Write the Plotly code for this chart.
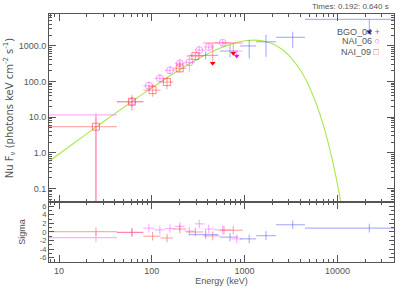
import plotly.graph_objects as go
from plotly.subplots import make_subplots

# ---------------- data ----------------
# NAI_09 (red squares)
n9_e = [25, 61, 102, 146, 200, 295, 600]
n9_elo = [7.8, 42, 81, 124, 170, 236, 540]
n9_ehi = [42, 81, 124, 170, 236, 358, 700]
n9_f = [5.4, 27, 57, 96, 233, 514, 1200]
n9_fhi = [10.5, 41.6, 84.5, 136, 356, 650, 1300]
n9_flo = [0.01, 15, 37, 60, 175, 400, 1100]
n9_res = [0.1, -0.1, -1.0, -1.4, 0.7, 0.0, 0.4]
# NAI_09 upper limits
n9u_e = [453, 755]
n9u_elo = [358, 700]
n9u_ehi = [540, 960]
n9u_ul = [1200, 1200]
n9u_tip = [321, 612]
n9u_res = [-0.9, 0.4]

# NAI_06 (magenta circles)
n6_e = [25, 61, 93, 122, 157, 200, 254, 325, 410, 580]
n6_elo = [7.8, 42, 81, 107, 138, 178, 225, 290, 370, 470]
n6_ehi = [42, 81, 107, 138, 178, 225, 290, 370, 470, 720]
n6_f = [11.5, 27, 76, 122, 205, 321, 343, 758, 920, 1213]
n6_fhi = [13, 38, 100, 160, 265, 420, 492, 950, 1150, 1450]
n6_flo = [0.01, 19, 58, 93, 158, 245, 187, 600, 730, 1000]
n6_res = [-1.3, -0.1, 0.9, 0.5, 0.8, 1.3, 0.2, 1.9, 0.7, 0.5]
# NAI_06 upper limit
n6u_e = [822]
n6u_elo = [720]
n6u_ehi = [950]
n6u_ul = [710]
n6u_tip = [514]
n6u_res = [-1.6]

# BGO_04 (blue crosses)
b4_e = [380, 696, 1122, 1700, 3300]
b4_elo = [250, 540, 890, 1330, 2180]
b4_ehi = [520, 850, 1330, 2180, 4470]
b4_f = [537, 710, 990, 1295, 1720]
b4_fhi = [700, 1045, 1443, 2034, 2470]
b4_flo = [410, 473, 443, 492, 879]
b4_res = [-0.6, -1.2, -1.6, -0.85, 1.7]
# BGO_04 upper limit
b4u_e = [22100]
b4u_elo = [4470]
b4u_ehi = [40800]
b4u_ul = [5500]
b4u_tip = [2470]
b4u_res = [0.9]

# model curve
mod_e = [7.8, 10, 15, 20, 30, 50, 70, 100, 150, 200, 300, 500, 700, 1000, 1260,
         1500, 2000, 2500, 3000, 4000, 5000, 6000, 7000, 8000, 9000, 10000, 11000]
mod_f = [0.58, 0.93, 2.0, 3.45, 7.4, 19.0, 35, 66, 133, 213, 398, 780, 1094, 1374, 1442,
         1396, 1135, 815, 541, 206, 69, 21.6, 6.4, 1.81, 0.50, 0.134, 0.035]

y_tickvals = [0.1, 1, 10, 100, 1000]
y_ticktext = ["0.1", "1.0", "10.0", "100.0", "1000.0"]
s_tickvals = [-6, -4, -2, 0, 2, 4, 6]
s_ticktext = ["-6", "-4", "-2", "0", "2", "4", "6"]
x_tickvals = [10, 100, 1000, 10000]
x_ticktext = ["10", "100", "1000", "10000"]

# --------------- figure ---------------
RED = "rgba(255,90,90,0.5)"
MAG = "rgba(255,100,255,0.5)"
BLU = "rgba(100,100,255,0.5)"
GREEN = "#a8e84c"
AX = "#555555"
FONT = "Liberation Sans"
TH = 1.2

fig = make_subplots(rows=2, cols=1, shared_xaxes=True,
                    row_heights=[0.758, 0.242], vertical_spacing=0)


def sub(a, b):
    return [x - y for x, y in zip(a, b)]


def pts(e, elo, ehi, f, fhi, flo, col, sym, size, lcol, row=1):
    fig.add_trace(go.Scatter(
        x=e, y=f, mode="markers",
        marker=dict(symbol=sym, size=size, color=lcol, line=dict(color=lcol, width=1)),
        error_x=dict(type="data", symmetric=False, array=sub(ehi, e),
                     arrayminus=sub(e, elo), color=col, thickness=TH, width=0),
        error_y=dict(type="data", symmetric=False, array=sub(fhi, f),
                     arrayminus=sub(f, flo), color=col, thickness=TH, width=0),
        showlegend=False, hoverinfo="skip"), row=row, col=1)


def uls(e, elo, ehi, ul, tip, col, tipcol):
    fig.add_trace(go.Scatter(
        x=e, y=ul, mode="markers", marker=dict(size=0, opacity=0),
        error_x=dict(type="data", symmetric=False, array=sub(ehi, e),
                     arrayminus=sub(e, elo), color=col, thickness=TH, width=0),
        error_y=dict(type="data", symmetric=False, array=[0] * len(e),
                     arrayminus=sub(ul, tip), color=col, thickness=TH, width=0),
        showlegend=False, hoverinfo="skip"), row=1, col=1)
    fig.add_trace(go.Scatter(
        x=e, y=tip, mode="markers",
        marker=dict(symbol="triangle-down", size=5, color=tipcol),
        showlegend=False, hoverinfo="skip"), row=1, col=1)


def res(e, elo, ehi, r, col):
    fig.add_trace(go.Scatter(
        x=e, y=r, mode="markers", marker=dict(size=0, opacity=0),
        error_x=dict(type="data", symmetric=False, array=sub(ehi, e),
                     arrayminus=sub(e, elo), color=col, thickness=TH, width=0),
        error_y=dict(type="data", array=[1] * len(e), color=col, thickness=TH, width=0),
        showlegend=False, hoverinfo="skip"), row=2, col=1)


# model
fig.add_trace(go.Scatter(x=mod_e, y=mod_f, mode="lines", line=dict(color=GREEN, width=1.1, shape="spline"),
                         showlegend=False, hoverinfo="skip"), row=1, col=1)
# zero line in residuals
fig.add_hline(y=0, line=dict(color=GREEN, width=1.5, dash="dot"), row=2, col=1)

# top panel data
pts(b4_e, b4_elo, b4_ehi, b4_f, b4_fhi, b4_flo, BLU, "cross-thin", 0, "rgba(0,0,0,0)")
n6_sizes = [0] + [7] * (len(n6_e) - 1)
fig.add_trace(go.Scatter(
    x=n6_e, y=n6_f, mode="markers",
    marker=dict(symbol="circle-open", size=n6_sizes, color="rgba(255,90,255,0.85)", line=dict(width=1)),
    error_x=dict(type="data", symmetric=False, array=sub(n6_ehi, n6_e),
                 arrayminus=sub(n6_e, n6_elo), color=MAG, thickness=TH, width=0),
    error_y=dict(type="data", symmetric=False, array=sub(n6_fhi, n6_f),
                 arrayminus=sub(n6_f, n6_flo), color=MAG, thickness=TH, width=0),
    showlegend=False, hoverinfo="skip"), row=1, col=1)
n9_sizes = [7] * (len(n9_e) - 1) + [0]
fig.add_trace(go.Scatter(
    x=n9_e, y=n9_f, mode="markers",
    marker=dict(symbol="square-open", size=n9_sizes, color="rgba(255,60,60,0.85)", line=dict(width=1)),
    error_x=dict(type="data", symmetric=False, array=sub(n9_ehi, n9_e),
                 arrayminus=sub(n9_e, n9_elo), color=RED, thickness=TH, width=0),
    error_y=dict(type="data", symmetric=False, array=sub(n9_fhi, n9_f),
                 arrayminus=sub(n9_f, n9_flo), color=RED, thickness=TH, width=0),
    showlegend=False, hoverinfo="skip"), row=1, col=1)

uls(b4u_e, b4u_elo, b4u_ehi, b4u_ul, b4u_tip, BLU, "#0000cc")
uls(n6u_e, n6u_elo, n6u_ehi, n6u_ul, n6u_tip, MAG, "#ff00ff")
uls(n9u_e, n9u_elo, n9u_ehi, n9u_ul, n9u_tip, RED, "#ff0000")

# residuals
res(n6_e + n6u_e, n6_elo + n6u_elo, n6_ehi + n6u_ehi, n6_res + n6u_res, MAG)
res(n9_e + n9u_e, n9_elo + n9u_elo, n9_ehi + n9u_ehi, n9_res + n9u_res, RED)
res(b4_e + b4u_e, b4_elo + b4u_elo, b4_ehi + b4u_ehi, b4_res + b4u_res, BLU)

axis_common = dict(showline=True, linecolor=AX, linewidth=1, mirror="ticks", ticks="inside",
                   tickcolor=AX, showgrid=False, zeroline=False, automargin=False)

x_minor = [k * 10 ** d for d in range(0, 5) for k in range(2, 10)]
y_minor = [k * 10.0 ** d for d in range(-2, 4) for k in range(2, 10)]

xr = [0.892, 4.61]
fig.update_xaxes(type="log", range=xr, tickvals=x_tickvals, ticktext=x_ticktext, ticklen=7,
                 tickfont=dict(family=FONT, size=9, color="#555"),
                 minor=dict(ticks="inside", ticklen=3, tickcolor=AX, tickvals=x_minor), **axis_common)
fig.update_xaxes(showticklabels=False, row=1, col=1)
fig.update_xaxes(title=dict(text="Energy (keV)", font=dict(family=FONT, size=9, color="#555"), standoff=1),
                 row=2, col=1)
fig.update_yaxes(type="log", range=[-1.378, 3.89], tickvals=y_tickvals, ticktext=y_ticktext,
                 ticklen=7, tickfont=dict(family=FONT, size=9, color="#555"),
                 minor=dict(ticks="inside", ticklen=3, tickcolor=AX, tickvals=y_minor),
                 title=dict(text="Nu F<sub>ν</sub> (photons keV cm<sup>-2</sup> s<sup>-1</sup>)",
                            font=dict(family="DejaVu Sans", size=10, color="#555"), standoff=3),
                 row=1, col=1, **axis_common)
fig.update_yaxes(range=[-7, 7], tickvals=s_tickvals, ticktext=s_ticktext, ticklen=5,
                 tickfont=dict(family=FONT, size=7.5, color="#555"),
                 minor=dict(ticks="inside", ticklen=3, tickcolor=AX, dtick=1),
                 title=dict(text="Sigma", font=dict(family=FONT, size=9, color="#555"), standoff=12),
                 row=2, col=1, **axis_common)

# legend as annotations
leg = [("BGO_04", "+", "#6060ff"), ("NAI_06", "○", "#ff60ff"), ("NAI_09", "□", "#ff5050")]
for i, (name, sym, col) in enumerate(leg):
    fig.add_annotation(xref="paper", yref="paper", x=0.965, y=(262 - 31.5 - 10 * i) / 248,
                       xanchor="right", yanchor="middle", showarrow=False,
                       text=f"{name} <span style='color:{col}'>{sym}</span>",
                       font=dict(family=FONT, size=9, color="#555"))

fig.add_annotation(xref="paper", yref="paper", x=0.99, y=1.0, yshift=1, xanchor="right", yanchor="bottom",
                   showarrow=False, text="Times: 0.192: 0.640 s",
                   font=dict(family=FONT, size=8, color="#555"))

fig.update_layout(width=407, height=291, margin=dict(l=49, r=13, t=14, b=29, autoexpand=False),
                  paper_bgcolor="white", plot_bgcolor="white",
                  font=dict(family=FONT, size=9, color="#555"))

fig.write_html("out.html", config={"displayModeBar": False},
               post_script="document.body.style.margin='0';")
